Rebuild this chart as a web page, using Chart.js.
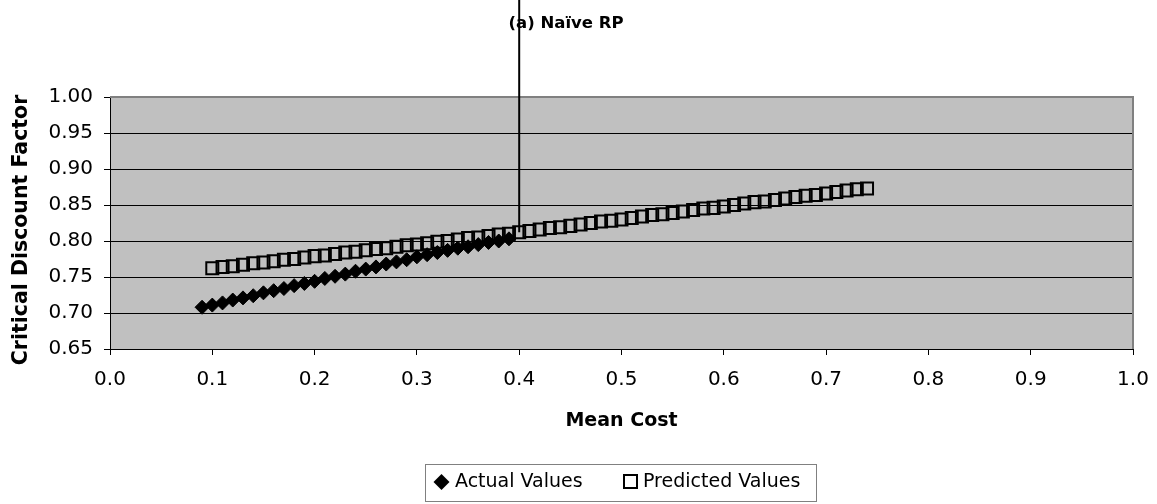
<!DOCTYPE html>
<html>
<head>
<meta charset="utf-8">
<script src="https://cdn.jsdelivr.net/npm/chart.js@4.4.1/dist/chart.umd.min.js"></script>
<style>
  html, body { margin: 0; padding: 0; background: #ffffff; }
  #wrap { width: 1157px; height: 504px; position: relative; }
</style>
</head>
<body>
<div id="wrap"><canvas id="c" width="1157" height="504"></canvas></div>
<script>
// ---- data ----
const chartTitle = "(a) Naïve RP";
const xAxisTitle = "Mean Cost";
const yAxisTitle = "Critical Discount Factor";
const seriesNames = ["Actual Values", "Predicted Values"];

const actualX = [0.09,0.10,0.11,0.12,0.13,0.14,0.15,0.16,0.17,0.18,0.19,0.20,0.21,0.22,0.23,0.24,0.25,0.26,0.27,0.28,0.29,0.30,0.31,0.32,0.33,0.34,0.35,0.36,0.37,0.38,0.39];
const actualY = [0.708,0.711,0.714,0.718,0.721,0.724,0.728,0.731,0.734,0.738,0.741,0.744,0.748,0.751,0.754,0.758,0.761,0.764,0.768,0.771,0.774,0.778,0.781,0.784,0.787,0.790,0.792,0.795,0.798,0.800,0.803];

const predictedX = [0.10,0.11,0.12,0.13,0.14,0.15,0.16,0.17,0.18,0.19,0.20,0.21,0.22,0.23,0.24,0.25,0.26,0.27,0.28,0.29,0.30,0.31,0.32,0.33,0.34,0.35,0.36,0.37,0.38,0.39,0.40,0.41,0.42,0.43,0.44,0.45,0.46,0.47,0.48,0.49,0.50,0.51,0.52,0.53,0.54,0.55,0.56,0.57,0.58,0.59,0.60,0.61,0.62,0.63,0.64,0.65,0.66,0.67,0.68,0.69,0.70,0.71,0.72,0.73,0.74];
const predictedY = [0.762,0.764,0.765,0.767,0.769,0.770,0.772,0.774,0.775,0.777,0.779,0.780,0.782,0.784,0.785,0.787,0.789,0.790,0.792,0.794,0.795,0.797,0.799,0.800,0.802,0.804,0.805,0.807,0.809,0.810,0.812,0.814,0.816,0.818,0.819,0.821,0.823,0.825,0.827,0.828,0.830,0.832,0.834,0.836,0.837,0.839,0.841,0.843,0.845,0.846,0.848,0.850,0.852,0.854,0.855,0.857,0.859,0.861,0.863,0.864,0.866,0.868,0.870,0.872,0.873];

// vertical marker line at the switching cost
const markerLineX = [0.40, 0.40];
const markerLineY = [0.812, 1.20];

const xTicks = [0.0,0.1,0.2,0.3,0.4,0.5,0.6,0.7,0.8,0.9,1.0];
const yTicks = [0.65,0.70,0.75,0.80,0.85,0.90,0.95,1.00];

// ---- build ----
const pts = (xs, ys) => xs.map((x, i) => ({x: x, y: ys[i]}));
const FONT = "'DejaVu Sans', sans-serif";

Chart.defaults.font.family = FONT;
Chart.defaults.font.size = 18;
Chart.defaults.color = '#000';

const decor = {
  id: 'decor',
  beforeDraw(chart) {
    const {ctx, chartArea: a} = chart;
    ctx.save();
    ctx.fillStyle = '#ffffff';
    ctx.fillRect(0, 0, chart.width, chart.height);
    ctx.fillStyle = '#c0c0c0';
    ctx.fillRect(a.left, a.top, a.right - a.left, a.bottom - a.top);
    ctx.restore();
  },
  beforeDatasetsDraw(chart) {
    const {ctx, chartArea: a} = chart;
    ctx.save();
    ctx.strokeStyle = '#808080';
    ctx.lineWidth = 2;
    ctx.beginPath();
    ctx.moveTo(a.left, a.top);
    ctx.lineTo(a.right, a.top);
    ctx.lineTo(a.right, a.bottom);
    ctx.stroke();
    // chart title
    ctx.fillStyle = '#000';
    ctx.font = "bold 16.5px " + FONT;
    ctx.textAlign = 'center';
    ctx.textBaseline = 'middle';
    ctx.fillText(chartTitle, 566, 24);
    // y axis title
    ctx.translate(22, 230);
    ctx.rotate(-Math.PI / 2);
    ctx.font = "bold 20.5px " + FONT;
    ctx.fillText(yAxisTitle, 0, 0);
    ctx.restore();
  },
  afterDraw(chart) {
    const ctx = chart.ctx;
    ctx.save();
    // legend box
    ctx.strokeStyle = '#808080';
    ctx.lineWidth = 1;
    ctx.strokeRect(425.5, 464.5, 391, 37);
    // diamond
    ctx.fillStyle = '#000';
    ctx.beginPath();
    const dx = 441.5, dy = 482, r = 8;
    ctx.moveTo(dx - r, dy); ctx.lineTo(dx, dy - r); ctx.lineTo(dx + r, dy); ctx.lineTo(dx, dy + r);
    ctx.closePath();
    ctx.fill();
    // square
    ctx.strokeStyle = '#000';
    ctx.lineWidth = 2;
    ctx.strokeRect(624, 475, 13, 13);
    ctx.font = "19px " + FONT;
    ctx.textAlign = 'left';
    ctx.textBaseline = 'middle';
    ctx.fillText(seriesNames[0], 455, 482);
    ctx.fillText(seriesNames[1], 643, 482);
    ctx.restore();
  }
};

new Chart(document.getElementById('c'), {
  type: 'scatter',
  data: {
    datasets: [
      {
        label: seriesNames[0],
        data: pts(actualX, actualY),
        pointStyle: 'rectRot',
        pointRadius: 7,
        pointHoverRadius: 7,
        backgroundColor: '#000',
        borderColor: '#000',
        borderWidth: 1
      },
      {
        label: seriesNames[1],
        data: pts(predictedX, predictedY),
        pointStyle: 'rect',
        pointRadius: 8.5,
        pointHoverRadius: 8.5,
        backgroundColor: 'rgba(0,0,0,0)',
        borderColor: '#000',
        borderWidth: 2
      },
      {
        label: 'marker',
        data: pts(markerLineX, markerLineY),
        showLine: true,
        pointRadius: 0,
        borderColor: '#000',
        borderWidth: 2,
        clip: false
      }
    ]
  },
  options: {
    responsive: false,
    animation: false,
    events: [],
    layout: { padding: { top: 97, left: 0, right: 24, bottom: 0 } },
    plugins: {
      legend: { display: false },
      title: { display: false },
      tooltip: { enabled: false }
    },
    scales: {
      x: {
        type: 'linear',
        min: 0, max: 1,
        afterFit(s) { s.height = 155; s.paddingLeft = 0; s.paddingRight = 0; },
        afterBuildTicks(s) { s.ticks = xTicks.map(v => ({value: v})); },
        ticks: {
          font: { size: 20 },
          padding: 13,
          maxRotation: 0,
          callback: v => v.toFixed(1)
        },
        grid: { drawOnChartArea: false, drawTicks: true, tickLength: 6, color: '#000', lineWidth: 1 },
        border: { display: true, color: '#000', width: 1 },
        title: {
          display: true, text: xAxisTitle,
          font: { size: 19, weight: 'bold' },
          padding: { top: 0, bottom: 72 }
        }
      },
      y: {
        type: 'linear',
        min: 0.65, max: 1.00,
        afterFit(s) { s.width = 110; s.paddingTop = 0; s.paddingBottom = 0; },
        afterBuildTicks(s) { s.ticks = yTicks.map(v => ({value: v})); },
        ticks: {
          font: { size: 20 },
          padding: 11,
          callback: v => v.toFixed(2)
        },
        grid: { drawOnChartArea: true, drawTicks: true, tickLength: 6, color: '#000', lineWidth: 1 },
        border: { display: true, color: '#000', width: 1 },
        title: { display: false }
      }
    }
  },
  plugins: [decor]
});
</script>
</body>
</html>
